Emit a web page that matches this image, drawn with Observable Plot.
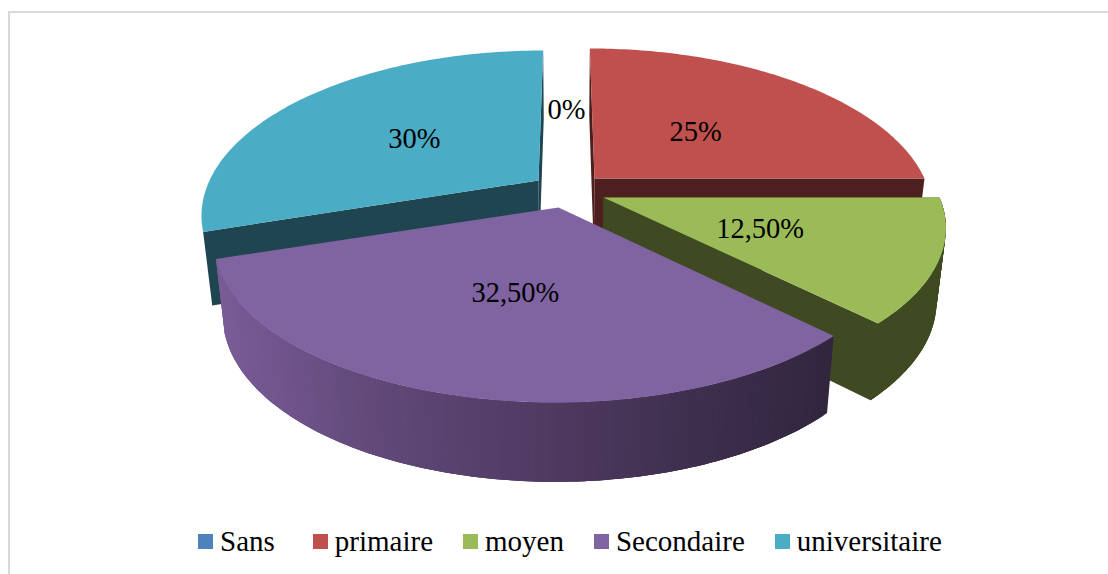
<!DOCTYPE html>
<html lang="fr">
<head>
<meta charset="utf-8">
<script src="https://cdn.jsdelivr.net/npm/d3@7"></script>
<script src="https://cdn.jsdelivr.net/npm/@observablehq/plot@0.6"></script>
<style>
  html, body { margin: 0; padding: 0; background: #fff; width: 1108px; height: 574px; overflow: hidden; }
  #frame { position: absolute; left: 8px; top: 11px; width: 1100px; height: 563px; border-left: 2px solid #d9d9d9; border-top: 2px solid #d9d9d9; box-sizing: border-box; }
  #chart { position: absolute; left: 0; top: 0; }
  #chart svg { display: block; background: transparent; }
  #legend { position: absolute; left: 198px; top: 522px; display: flex; align-items: center; height: 38px;
            font: 29px "Liberation Serif", serif; color: #000; white-space: nowrap; }
  #legend .item { display: flex; align-items: center; }
  #legend .sw { width: 15px; height: 15px; margin-right: 7px; }
</style>
</head>
<body>
<div id="frame"></div>
<div id="chart"></div>
<div id="legend"></div>
<script>
// Values
const categories = ["Sans", "primaire", "moyen", "Secondaire", "universitaire"];
const shares = [0, 25, 12.5, 32.5, 30];
const labels = ["0%", "25%", "12,50%", "32,50%", "30%"];
const topColors = ["#4f81bd", "#c0504d", "#9bbb59", "#8064a2", "#4bacc6"];
const wallColors = ["#28405e", "#4d1f1e", "#3f4a22", "#33263f", "#1f4551"];

// Projection of the exploded 3D pie
const width = 1108, height = 522;
const apexX = [566, 594, 603, 558, 538];
const apexY = [190, 178, 197, 207, 180];
const radiusX = [0, 330, 336, 337, 329];
const radiusY = [156, 156, 153, 156, 156];
const tilt = [0, 28, -12, -14, -28];
const labelRadius = [0.59, 0.46, 0.49, 0.5, 0.5];
const labelNudge = [0, 2, -1, 2, 0];
const perspective = 0.2, vanishX = 566, shrink = 0.975;

const starts = d3.cumsum([0, ...shares.slice(0, -1)]);
const toAngle = (v) => (v / 100) * 2 * Math.PI;
function project(i, angle, f = 1) {
  const X = Math.sin(angle) * f, Y = -Math.cos(angle) * f;
  const s = 1 / (1 - perspective * Y);
  return [apexX[i] + tilt[i] * (s - 1) + radiusX[i] * X * s, apexY[i] + radiusY[i] * Y * s];
}
const lower = ([x, y]) => [vanishX + (x - vanishX) * shrink, y + 66 + 0.033 * y];
const arc = (i, a0, a1) => d3.range(0, 1.0001, 0.01).map((t) => project(i, a0 + (a1 - a0) * t));
const apex = (i) => [apexX[i], apexY[i]];

const rows = [];
let nextId = 0;
function polygon(points, fill) {
  const id = nextId++;
  for (const [x, y] of points) rows.push({id, x, y, fill});
}
const band = (top) => [...top, ...top.map(lower).reverse()];
const edge = (i, a) => [apex(i), project(i, a)];
const bounds = shares.map((v, i) => [toAngle(starts[i]), toAngle(starts[i] + v)]);

// Purple side shading, from left (lit) to right (dark)
const purpleShade = d3.scaleLinear()
  .domain([216, 380, 555, 700, 833])
  .range(["#7a5c97", "#604878", "#4f3a61", "#3e2f4e", "#32263f"])
  .clamp(true);

// Curved side, in strips that each reach past the start of the next one:
// the next strip paints over the join, so no seam shows.
function curvedSide(i, a0, a1, shade, n = 120, reach = 3) {
  for (let k = 0; k < n; k++) {
    const top = d3.range(k, Math.min(k + reach, n) + 1).map((j) => project(i, a0 + (a1 - a0) * j / n));
    polygon(band(top), shade(top[0][0]));
  }
}

// Back to front: universitaire, primaire, moyen, Secondaire
[4, 1, 2, 3].forEach((i) => {
  const [a0, a1] = bounds[i];
  if (i === 3) {
    curvedSide(i, a0, a1, purpleShade);
  } else if (i === 2) {
    polygon(band(edge(i, a0)), wallColors[i]);
    curvedSide(i, a0, a1, () => wallColors[i], 60);
    // radial wall, folded a little over the curved side to hide the join
    polygon(band([project(i, a1 - (a1 - a0) * 0.1), project(i, a1), apex(i)]), wallColors[i]);
  } else {
    polygon(band(edge(i, a0)), wallColors[i]);
    polygon(band(edge(i, a1)), wallColors[i]);
  }
  polygon([apex(i), ...arc(i, a0, a1)], topColors[i]);
});

const labelRows = labels.map((text, i) => {
  const mid = toAngle(starts[i] + shares[i] / 2);
  const [x, y] = project(i, mid, labelRadius[i]);
  return {text, x: x + labelNudge[i], y};
});

const plot = Plot.plot({
  width, height,
  margin: 0,
  x: {axis: null, domain: [0, width], range: [0, width]},
  y: {axis: null, domain: [0, height], range: [0, height]},
  color: {type: "identity"},
  style: {background: "transparent"},
  marks: [
    Plot.line(rows, {x: "x", y: "y", z: "id", fill: "fill", curve: "linear-closed", stroke: null}),
    Plot.text(labelRows, {x: "x", y: "y", dy: 1.5, text: "text", fill: "#000", fontSize: 28.5, fontFamily: "Liberation Serif", textAnchor: "middle", lineAnchor: "middle"})
  ]
});
document.getElementById("chart").append(plot);

const legend = d3.select("#legend");
categories.forEach((name, i) => {
  const item = legend.append("div").attr("class", "item").style("margin-right", i === 0 ? "38px" : "30px");
  item.append("div").attr("class", "sw").style("background", topColors[i]);
  item.append("span").text(name);
});
</script>
</body>
</html>
